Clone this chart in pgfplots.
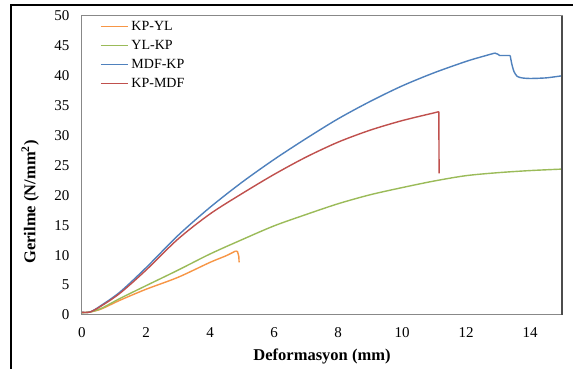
\documentclass[border=0pt]{standalone}
\usepackage{fontspec}
\setmainfont{Liberation Serif}
\usepackage{pgfplots}
\pgfplotsset{compat=1.18}
\definecolor{cBlue}{HTML}{4F81BD}
\definecolor{cRed}{HTML}{C0504D}
\definecolor{cGreen}{HTML}{9BBB59}
\definecolor{cOrange}{HTML}{F79646}
\definecolor{cAxis}{HTML}{888888}
\begin{document}
\begin{tikzpicture}
\useasboundingbox (0,0) rectangle (573pt,369pt);
\fill[white] (0,0) rectangle (573pt,369pt);
\draw[black, line width=1.6pt] (11pt,-2pt) -- (11pt,364pt) -- (575pt,364pt);
\begin{axis}[
  at={(82pt,54pt)}, anchor=south west,
  scale only axis, width=480pt, height=299pt,
  xmin=0, xmax=15, ymin=0, ymax=50,
  xtick={0,2,...,14}, ytick={0,5,...,50},
  major tick length=0pt,
  axis line style={draw=cAxis, line width=1pt},
  tick label style={font=\fontsize{15}{15}\selectfont},
  /pgf/number format/assume math mode=true,
  xticklabel style={yshift=-9pt},
  yticklabel style={xshift=-9pt},
  xlabel={\textbf{Deformasyon (mm)}},
  ylabel={\textbf{Gerilme (N/mm\textsuperscript{2})}},
  label style={font=\fontsize{16.5}{16.5}\selectfont},
  xlabel style={at={(axis description cs:0.5,-0.14)}, anchor=center},
  ylabel style={at={(axis description cs:-0.108,0.378)}, anchor=center, rotate=0},
  legend style={at={(axis description cs:0.031,0.993)}, anchor=north west, draw=none, fill=none,
    font=\fontsize{14}{14}\selectfont, row sep=6pt,
    nodes={inner ysep=0pt, inner xsep=3pt, text height=10pt, text depth=3pt}},
  legend cell align=left,
  legend image code/.code={\draw[#1] (0pt,0pt) -- (27pt,0pt);},
  every axis plot/.append style={line width=1.4pt, line join=round},
]
% KP-YL
\addplot[cOrange, smooth, tension=0.5] coordinates {
(0,0.4) (0.25,0.5) (0.6,1.0) (1.2,2.5) (2,4.3) (3,6.3) (4,8.8) (4.5,9.9) (4.8,10.7)
};
\addlegendentry{KP-YL}
% YL-KP
\addplot[cGreen, smooth, tension=0.5] coordinates {
(0,0.4) (0.25,0.5) (0.6,1.1) (1.2,2.8) (2,4.9) (3,7.5) (4,10.2) (5,12.6) (6,14.9) (7,16.8) (8,18.6) (9,20.1) (10,21.3) (11,22.4) (12,23.3) (13,23.8) (14,24.15) (15,24.4)
};
\addlegendentry{YL-KP}
% MDF-KP
\addplot[cBlue, smooth, tension=0.5] coordinates {
(0,0.45) (0.25,0.5) (0.6,1.6) (1.2,3.9) (2,7.9) (3,13.3) (4,18.0) (5,22.2) (6,26.0) (7,29.5) (8,32.8) (9,35.7) (10,38.3) (11,40.5) (12,42.4) (12.5,43.2) (12.9,43.8)
};
\addlegendentry{MDF-KP}
% KP-MDF
\addplot[cRed, smooth, tension=0.5] coordinates {
(0,0.45) (0.25,0.5) (0.6,1.5) (1.2,3.7) (2,7.5) (3,12.7) (4,16.9) (5,20.3) (6,23.5) (7,26.4) (8,28.9) (9,30.9) (10,32.5) (11,33.8) (11.15,34.0)
};
\addlegendentry{KP-MDF}
% tails
\addplot[cOrange, forget plot] coordinates {
(4.8,10.7) (4.86,10.6) (4.9,9.8) (4.91,8.8)
};
\addplot[cBlue, forget plot] coordinates {
(12.9,43.8) (13.0,43.6) (13.05,43.4) (13.38,43.4)
};
\addplot[cBlue, smooth, tension=0.4, forget plot] coordinates {
(13.38,43.4) (13.43,42.0) (13.5,40.7) (13.6,39.9) (13.75,39.65) (14.0,39.55) (14.5,39.65) (15,40.0)
};
\addplot[cRed, forget plot] coordinates {
(11.15,34.0) (11.16,23.7)
};
\end{axis}
\draw[black!70, line width=1.2pt] (562pt,54pt) -- (562pt,353pt);
\end{tikzpicture}
\end{document}
